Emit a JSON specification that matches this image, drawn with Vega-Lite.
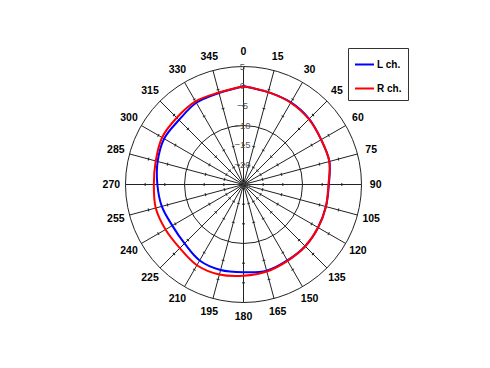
{
  "$schema": "https://vega.github.io/schema/vega-lite/v6.json",
  "width": 236,
  "height": 236,
  "autosize": {"type": "none"},
  "padding": {"left": 125.5, "top": 66.5, "right": 128.5, "bottom": 65.5},
  "background": "white",
  "config": {"view": {"stroke": null}},
  "datasets": {
    "spokes": [{"a": [0, 15, 30, 45, 60, 75, 90, 105, 120, 135, 150, 165, 180, 195, 210, 225, 240, 255, 270, 285, 300, 315, 330, 345], "lv": [-20, -15, -5, 0]}],
    "rings": [{"lv": -10}, {"lv": 5}],
    "rlabels": [{"lv": 5}, {"lv": 0}, {"lv": -5}, {"lv": -10}, {"lv": -15}, {"lv": -20}, {"lv": -25}],
    "resp": [
      {"a": 0, "ch": "L ch.", "v": 0.0}, {"a": 15, "ch": "L ch.", "v": -0.7}, {"a": 30, "ch": "L ch.", "v": -0.9}, {"a": 45, "ch": "L ch.", "v": -1.4},
      {"a": 60, "ch": "L ch.", "v": -2.2}, {"a": 75, "ch": "L ch.", "v": -2.4}, {"a": 90, "ch": "L ch.", "v": -3.3}, {"a": 105, "ch": "L ch.", "v": -3.3},
      {"a": 120, "ch": "L ch.", "v": -3.1}, {"a": 135, "ch": "L ch.", "v": -2.8}, {"a": 150, "ch": "L ch.", "v": -2.7}, {"a": 165, "ch": "L ch.", "v": -2.3},
      {"a": 180, "ch": "L ch.", "v": -2.7}, {"a": 195, "ch": "L ch.", "v": -2.5}, {"a": 210, "ch": "L ch.", "v": -2.7}, {"a": 225, "ch": "L ch.", "v": -3.8},
      {"a": 240, "ch": "L ch.", "v": -4.1}, {"a": 255, "ch": "L ch.", "v": -3.5}, {"a": 270, "ch": "L ch.", "v": -3.1}, {"a": 285, "ch": "L ch.", "v": -2.4},
      {"a": 300, "ch": "L ch.", "v": -1.7}, {"a": 315, "ch": "L ch.", "v": -1.8}, {"a": 330, "ch": "L ch.", "v": -1.0}, {"a": 345, "ch": "L ch.", "v": -0.9},
      {"a": 360, "ch": "L ch.", "v": 0.0},
      {"a": 0, "ch": "R ch.", "v": 0.0}, {"a": 15, "ch": "R ch.", "v": -0.7}, {"a": 30, "ch": "R ch.", "v": -1.0}, {"a": 45, "ch": "R ch.", "v": -1.5},
      {"a": 60, "ch": "R ch.", "v": -2.2}, {"a": 75, "ch": "R ch.", "v": -2.4}, {"a": 90, "ch": "R ch.", "v": -3.4}, {"a": 105, "ch": "R ch.", "v": -3.3},
      {"a": 120, "ch": "R ch.", "v": -3.1}, {"a": 135, "ch": "R ch.", "v": -2.8}, {"a": 150, "ch": "R ch.", "v": -2.6}, {"a": 165, "ch": "R ch.", "v": -2.1},
      {"a": 180, "ch": "R ch.", "v": -1.8}, {"a": 195, "ch": "R ch.", "v": -1.3}, {"a": 210, "ch": "R ch.", "v": -1.3}, {"a": 225, "ch": "R ch.", "v": -2.1},
      {"a": 240, "ch": "R ch.", "v": -2.1}, {"a": 255, "ch": "R ch.", "v": -1.9}, {"a": 270, "ch": "R ch.", "v": -2.2}, {"a": 285, "ch": "R ch.", "v": -1.9},
      {"a": 300, "ch": "R ch.", "v": -1.1}, {"a": 315, "ch": "R ch.", "v": -1.0}, {"a": 330, "ch": "R ch.", "v": -0.6}, {"a": 345, "ch": "R ch.", "v": -0.8},
      {"a": 360, "ch": "R ch.", "v": 0.0}
    ]
  },
  "layer": [
    {
      "data": {"name": "rings"},
      "transform": [{"calculate": "datum.lv + 25", "as": "r"}, {"calculate": "1", "as": "full"}],
      "mark": {"type": "arc", "filled": false, "stroke": "#222", "strokeWidth": 1},
      "encoding": {
        "theta": {"field": "full", "type": "quantitative", "scale": {"domain": [0, 1]}, "stack": null},
        "radius": {"field": "r", "type": "quantitative", "scale": {"type": "linear", "domain": [0, 30], "zero": true}}
      }
    },
    {
      "data": {"name": "spokes"},
      "transform": [
        {"flatten": ["a"]},
        {"calculate": "30 * sin(datum.a * PI / 180)", "as": "sx"},
        {"calculate": "30 * cos(datum.a * PI / 180)", "as": "sy"},
        {"calculate": "0", "as": "o"}
      ],
      "mark": {"type": "rule", "color": "#222", "strokeWidth": 1},
      "encoding": {
        "x": {"field": "o", "type": "quantitative", "scale": {"domain": [-30, 30]}, "axis": null},
        "y": {"field": "o", "type": "quantitative", "scale": {"domain": [-30, 30]}, "axis": null},
        "x2": {"field": "sx"},
        "y2": {"field": "sy"}
      }
    },
    {
      "data": {"name": "spokes"},
      "transform": [
        {"flatten": ["a"]},
        {"flatten": ["lv"]},
        {"calculate": "(datum.lv + 25) * sin(datum.a * PI / 180)", "as": "tx"},
        {"calculate": "(datum.lv + 25) * cos(datum.a * PI / 180)", "as": "ty"}
      ],
      "mark": {"type": "point", "shape": "M-1,0L1,0", "filled": false, "stroke": "#222", "strokeWidth": 1, "size": 9, "opacity": 1},
      "encoding": {
        "x": {"field": "tx", "type": "quantitative", "axis": null},
        "y": {"field": "ty", "type": "quantitative", "axis": null},
        "angle": {"field": "a", "type": "quantitative", "scale": null}
      }
    },
    {
      "data": {"name": "rlabels"},
      "transform": [{"calculate": "datum.lv + 25", "as": "r"}, {"calculate": "0", "as": "o"}],
      "mark": {"type": "text", "font": "Liberation Sans", "fontSize": 9.5, "color": "#555", "dx": -1, "align": "center", "baseline": "middle"},
      "encoding": {
        "x": {"field": "o", "type": "quantitative", "axis": null},
        "y": {"field": "r", "type": "quantitative", "axis": null},
        "text": {"field": "lv", "type": "quantitative"}
      }
    },
    {
      "data": {"name": "resp"},
      "transform": [
        {"calculate": "datum.v + 25", "as": "r"},
        {"calculate": "datum.r * sin(datum.a * PI / 180)", "as": "px"},
        {"calculate": "datum.r * cos(datum.a * PI / 180)", "as": "py"}
      ],
      "mark": {"type": "line", "strokeWidth": 2, "interpolate": "catmull-rom"},
      "encoding": {
        "x": {"field": "px", "type": "quantitative", "axis": null},
        "y": {"field": "py", "type": "quantitative", "axis": null},
        "order": {"field": "a", "type": "quantitative"},
        "color": {
          "field": "ch", "type": "nominal",
          "scale": {"domain": ["L ch.", "R ch."], "range": ["#0000ff", "#ff0000"]},
          "legend": {
            "title": null, "orient": "none", "legendX": 222.5, "legendY": -18.5,
            "strokeColor": "#333", "fillColor": "white", "padding": 6,
            "symbolType": "stroke", "symbolSize": 361, "symbolStrokeWidth": 2,
            "labelFont": "Liberation Sans", "labelFontWeight": "bold", "labelFontSize": 10, "labelColor": "black",
            "labelOffset": 2, "rowPadding": 8, "symbolOffset": 0
          }
        }
      }
    },
    {
      "data": {"name": "spokes"},
      "transform": [
        {"flatten": ["a"]},
        {"calculate": "33.6 * sin(datum.a * PI / 180)", "as": "lx"},
        {"calculate": "33.6 * cos(datum.a * PI / 180)", "as": "ly"}
      ],
      "mark": {"type": "text", "font": "Liberation Sans", "fontSize": 10.5, "fontWeight": "bold", "color": "black", "align": "center", "baseline": "middle"},
      "encoding": {
        "x": {"field": "lx", "type": "quantitative", "axis": null},
        "y": {"field": "ly", "type": "quantitative", "axis": null},
        "text": {"field": "a", "type": "quantitative"}
      }
    }
  ]
}
